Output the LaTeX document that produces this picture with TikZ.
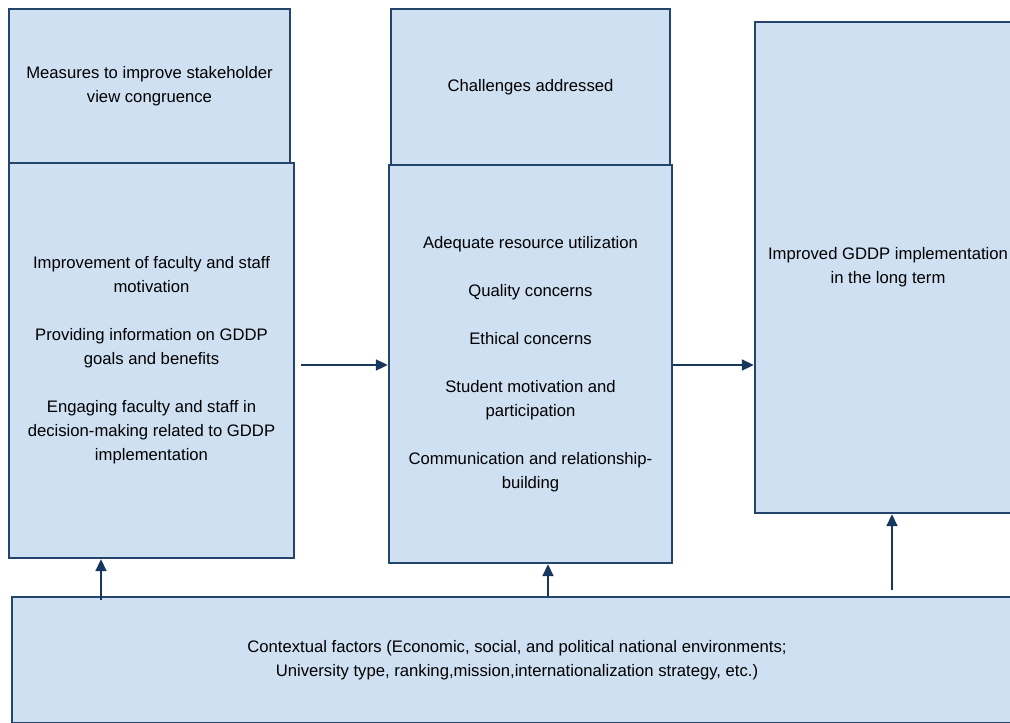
\documentclass[tikz,border=0pt]{standalone}
\usepackage{fontspec}
\setmainfont{Liberation Sans}
\usetikzlibrary{arrows.meta}
\definecolor{panelfill}{HTML}{CFE0F2}
\definecolor{paneldraw}{HTML}{24456B}
\definecolor{arrowblue}{HTML}{17375E}
\tikzset{
  panel/.style={draw=paneldraw,fill=panelfill,line width=1.6pt,inner sep=0pt,
    align=center,font=\fontsize{12.5}{18}\selectfont},
  arr/.style={draw=arrowblue,line width=1.8pt,-{Triangle[length=9pt,width=8pt]}}
}
\begin{document}
\begin{tikzpicture}[x=0.75pt,y=-0.75pt]
  \useasboundingbox (0,0) rectangle (1010,722);
  \clip (0,0) rectangle (1010,722);
  \fill[white] (0,0) rectangle (1010,722);
  % left column
  \node[panel,minimum width=210.75pt,minimum height=115.5pt] (mtop) at (149.5,86)
    {Measures to improve stakeholder\\view congruence};
  \node[panel,minimum width=213.75pt,minimum height=296.25pt] (mbody) at (151.5,360.5)
    {Improvement of faculty and staff\\motivation\\[18pt]
     Providing information on GDDP\\goals and benefits\\[18pt]
     Engaging faculty and staff in\\decision-making related to GDDP\\implementation};
  % middle column
  \node[panel,minimum width=209.25pt,minimum height=117pt] (ctop) at (530.5,87)
    {Challenges addressed};
  \node[panel,minimum width=212.25pt,minimum height=298.5pt] (cbody) at (530.5,364)
    {Adequate resource utilization\\[18pt]
     Quality concerns\\[18pt]
     Ethical concerns\\[18pt]
     Student motivation and\\participation\\[18pt]
     Communication and relationship-\\building};
  % right column
  \node[panel,minimum width=199.5pt,minimum height=368.25pt] (impl) at (888,267.5)
    {Improved GDDP implementation\\in the long term};
  % context
  \node[panel,minimum width=757.5pt,minimum height=94.5pt] (ctx) at (517,660)
    {Contextual factors (Economic, social, and political national environments;\\
     University type, ranking,mission,internationalization strategy, etc.)};
  % arrows
  \coordinate (h1) at (301,365);
  \draw[arr] (h1) -- (h1 -| cbody.west);
  \draw[arr] (cbody.east |- h1) -- (h1 -| impl.west);
  \coordinate (u1) at (101,600);
  \coordinate (u2) at (548,596);
  \coordinate (u3) at (892,590);
  \draw[arr] (u1) -- (u1 |- mbody.south);
  \draw[arr] (u2) -- (u2 |- cbody.south);
  \draw[arr] (u3) -- (u3 |- impl.south);
\end{tikzpicture}
\end{document}
